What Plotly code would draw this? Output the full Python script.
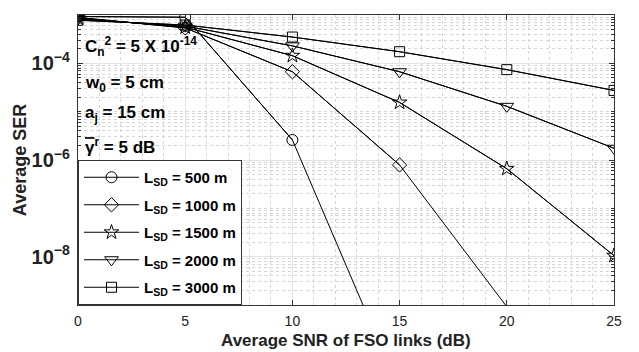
import math
import plotly.graph_objects as go

snr = [0, 5, 10, 15, 20, 25]
labels = ["L<sub>SD</sub> = 500 m", "L<sub>SD</sub> = 1000 m", "L<sub>SD</sub> = 1500 m",
          "L<sub>SD</sub> = 2000 m", "L<sub>SD</sub> = 3000 m"]
ser_500 = [9.3e-4, 9.0e-4, 2.6e-6, 1.7e-11, 1e-14, 1e-17]
ser_1000 = [8.9e-4, 5.4e-4, 6.7e-5, 7.9e-7, 9.2e-10, 9e-13]
ser_1500 = [8.6e-4, 5.6e-4, 1.44e-4, 1.55e-5, 6.6e-7, 1.05e-8]
ser_2000 = [8.2e-4, 5.9e-4, 2.3e-4, 6.7e-5, 1.29e-5, 1.75e-6]
ser_3000 = [7.8e-4, 6.2e-4, 3.5e-4, 1.74e-4, 7.4e-5, 2.75e-5]
series = [ser_500, ser_1000, ser_1500, ser_2000, ser_3000]
symbols = ["circle-open", "diamond-open", "star-open", "triangle-down-open", "square-open"]
sizes = [11, 11, 11, 12, 10]
y_min = 1e-9

font = "Liberation Sans, Arial, sans-serif"

fig = go.Figure()
for i, (lab, ys, sym, sz) in enumerate(zip(labels, series, symbols, sizes)):
    # full line (continues below the axis)
    fig.add_trace(go.Scatter(
        x=snr, y=ys, mode="lines", showlegend=False, hoverinfo="skip",
        line=dict(color="black", width=1), cliponaxis=True,
    ))
    # markers only where the centre lies inside the axes (as in MATLAB)
    xs_in = [x for x, v in zip(snr, ys) if v >= y_min]
    ys_in = [v for v in ys if v >= y_min]
    fig.add_trace(go.Scatter(
        x=xs_in, y=ys_in, mode="lines+markers", name="<b>" + lab + "</b>",
        legendgroup="g%d" % i,
        line=dict(color="black", width=1),
        marker=dict(symbol=sym, size=sz, color="black", line=dict(color="black", width=1)),
        cliponaxis=True,
    ))

annots = [
    ("C<sub>n</sub><sup>2</sup> = 5 X 10<sup>-14</sup>", 2.2e-4),
    ("w<sub>0</sub> = 5 cm", 3.7e-5),
    ("a<sub>j</sub> = 15 cm", 8.9e-6),
    ("<span style='text-decoration:overline'>γ</span><sup>r</sup> = 5 dB", 1.95e-6),
]
for txt, yv in annots:
    fig.add_annotation(x=0.25, y=math.log10(yv), text="<b>" + txt + "</b>",
                       showarrow=False, xanchor="left", yanchor="middle",
                       font=dict(family=font, size=17, color="black"))

# x-axis title placed just below the tick labels
fig.add_annotation(x=0.5, xref="paper", y=-0.1615, yref="paper", xanchor="center",
                   yanchor="bottom", showarrow=False,
                   text="<b>Average SNR of FSO links (dB)</b>",
                   font=dict(family=font, size=17, color="#222"))

fig.update_layout(
    width=639, height=352,
    margin=dict(l=78, r=25, t=15, b=47),
    paper_bgcolor="white", plot_bgcolor="white",
    font=dict(family=font, color="black"),
    showlegend=True,
    legend=dict(x=0, y=0, xanchor="left", yanchor="bottom",
                bgcolor="white", bordercolor="#333", borderwidth=1,
                font=dict(family=font, size=15, color="black"),
                itemwidth=55, tracegroupgap=5),
)
fig.update_xaxes(
    range=[0, 25], tickvals=[0, 5, 10, 15, 20, 25],
    ticks="inside", ticklen=5, tickcolor="#333", mirror="allticks",
    showline=True, linecolor="#333", linewidth=1,
    showgrid=True, gridcolor="#e3e3e3", gridwidth=1,
    minor=dict(dtick=1, showgrid=True, gridcolor="#d5d5d5", griddash="dot", ticks=""),
    tickfont=dict(family=font, size=14, color="#222"),
    ticklabelstandoff=3,
    zeroline=False, automargin=False,
)
fig.update_yaxes(
    type="log", range=[-9, -3], dtick=2, exponentformat="power",
    ticks="inside", ticklen=5, tickcolor="#333", mirror="allticks",
    showline=True, linecolor="#333", linewidth=1,
    showgrid=True, gridcolor="#e3e3e3", gridwidth=1,
    minor=dict(dtick="D1", showgrid=True, gridcolor="#d5d5d5", griddash="dot",
               ticks="inside", ticklen=3, tickcolor="#333"),
    tickfont=dict(family=font, size=16, color="#222"),
    ticklabelstandoff=4,
    title=dict(text="<b>Average SER</b>", standoff=0,
               font=dict(family=font, size=18, color="#222")),
    zeroline=False, automargin=False,
)
fig.for_each_yaxis(lambda a: a.update(tickprefix="<b>", ticksuffix="</b>"))
fig.for_each_xaxis(lambda a: a.update(tickprefix="<b>", ticksuffix="</b>"))

fig.write_html("out.html")
